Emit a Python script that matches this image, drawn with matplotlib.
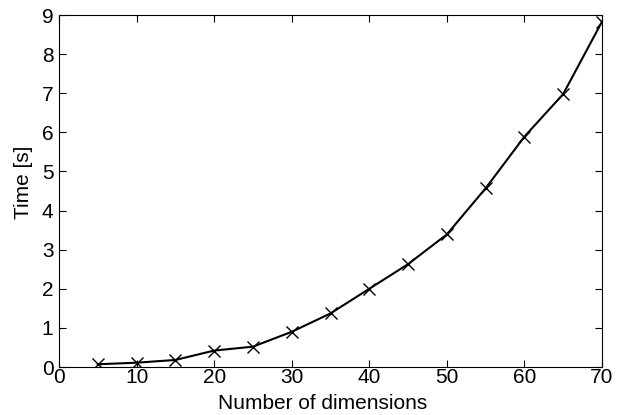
import matplotlib
matplotlib.use("Agg")
import matplotlib.pyplot as plt

dims = [5, 10, 15, 20, 25, 30, 35, 40, 45, 50, 55, 60, 65, 70]
times = [0.07, 0.11, 0.18, 0.42, 0.52, 0.90, 1.37, 2.00, 2.63, 3.39, 4.57, 5.89, 6.98, 8.83]

plt.rcParams['font.family'] = ['Liberation Sans', 'DejaVu Sans']
plt.rcParams['font.size'] = 15

fig = plt.figure(figsize=(6.21, 4.15), dpi=100)
ax = fig.add_axes([59/621, 1 - 367/415, (602 - 59)/621, (367 - 15)/415])

ax.plot(dims, times, color='black', linewidth=1.5, marker='x', markersize=9, markeredgewidth=1.0)
ax.set_xlim(0, 70)
ax.set_ylim(0, 9)
ax.set_xticks(range(0, 71, 10))
ax.set_yticks(range(0, 10))
ax.tick_params(direction='in', top=True, right=True, length=5, width=0.8)
ax.tick_params(axis='x', pad=1)
ax.tick_params(axis='y', pad=4)
for s in ax.spines.values():
    s.set_linewidth(0.8)

ax.set_xlabel("Number of dimensions")
ax.set_ylabel("Time [s]")
ax.xaxis.set_label_coords(0.486, -0.078)
ax.yaxis.set_label_coords(-0.048, 0.526)

fig.savefig("out.png", dpi=100)
